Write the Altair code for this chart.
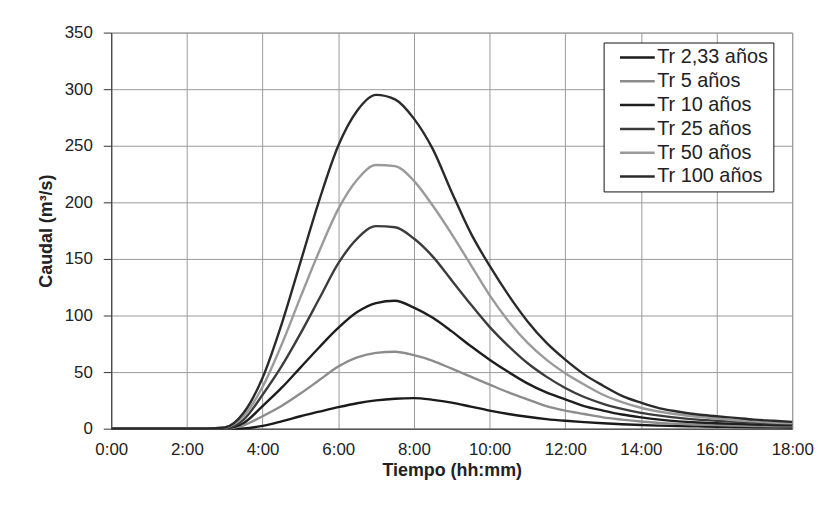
import altair as alt
import pandas as pd

# Time in hours (every 30 min)
hours = [i * 0.5 for i in range(37)]

series_names = ["Tr 2,33 años", "Tr 5 años", "Tr 10 años", "Tr 25 años", "Tr 50 años", "Tr 100 años"]
series_colors = ["#1a1a1a", "#8c8c8c", "#1e1e1e", "#3c3c3c", "#9a9a9a", "#2a2a2a"]

tr_2_33 = [0, 0, 0, 0, 0, 0, 0, 0.3, 2.5, 6.5, 11, 15, 19, 22.5, 25, 26.5, 27, 25.5, 23, 19.5,
           16, 13, 10.5, 8.5, 7, 5.8, 4.8, 3.9, 3.2, 2.7, 2.3, 2, 1.7, 1.5, 1.3, 1.2, 1]
tr_5 = [0, 0, 0, 0, 0, 0, 0.2, 3, 11, 20, 31, 43, 55, 63, 67, 68, 65, 60, 53, 46,
        39, 32, 26, 20, 16, 13, 10, 8, 6.3, 5, 4.2, 3.6, 3.1, 2.7, 2.4, 2.2, 2]
tr_10 = [0, 0, 0, 0, 0, 0, 0.3, 5, 20, 36, 54, 72, 89, 103, 111, 113, 107, 98, 86, 73,
         61, 50, 40, 32, 26, 20, 16, 12.5, 10, 8, 6.5, 5.5, 4.8, 4.2, 3.7, 3.3, 3]
tr_25 = [0, 0, 0, 0, 0, 0, 0.5, 8, 30, 55, 84, 115, 146, 168, 179, 178, 168, 152, 131, 110,
         90, 73, 58, 46, 36, 28, 22, 17.5, 14, 11.5, 9.5, 8, 7, 6, 5.3, 4.6, 4]
tr_50 = [0, 0, 0, 0, 0, 0, 1, 11, 37, 74, 116, 157, 194, 220, 233, 232, 219, 197, 172, 145,
         118, 95, 76, 61, 49, 39, 30, 23.5, 18.5, 15, 12.5, 10.5, 9, 7.5, 6.5, 5.5, 5]
tr_100 = [0, 0, 0, 0, 0, 0, 1, 14, 45, 92, 147, 202, 250, 281, 295, 291, 274, 247, 209, 173,
          144, 118, 95, 76, 61, 48, 38, 29, 23, 18, 15, 12.5, 11, 9.5, 8, 7, 6]

x_tick_values = [0, 2, 4, 6, 8, 10, 12, 14, 16, 18]
x_tick_labels = ["0:00", "2:00", "4:00", "6:00", "8:00", "10:00", "12:00", "14:00", "16:00", "18:00"]
y_tick_values = [0, 50, 100, 150, 200, 250, 300, 350]

all_series = [tr_2_33, tr_5, tr_10, tr_25, tr_50, tr_100]
rows = []
for idx, (name, vals) in enumerate(zip(series_names, all_series)):
    for t, v in zip(hours, vals):
        rows.append({"t": t, "q": v, "serie": name, "idx": idx})
df = pd.DataFrame(rows)

label_expr = "[" + ",".join("'%s'" % l for l in x_tick_labels) + "][round(datum.value/2)]"

FONT = "Liberation Sans"

chart = alt.Chart(df).mark_line(strokeWidth=2.4, interpolate="monotone").encode(
    x=alt.X("t:Q",
            scale=alt.Scale(domain=[0, 18], nice=False, zero=False),
            axis=alt.Axis(values=x_tick_values, labelExpr=label_expr,
                          title="Tiempo (hh:mm)", grid=True, ticks=False,
                          labelFlush=False, labelPadding=13, titlePadding=4)),
    y=alt.Y("q:Q",
            scale=alt.Scale(domain=[0, 350], nice=False),
            axis=alt.Axis(values=y_tick_values, title="Caudal (m³/s)", grid=True,
                          labelFlush=False, ticks=True, tickSize=8,
                          labelPadding=11, titlePadding=9)),
    color=alt.Color("serie:N",
                    scale=alt.Scale(domain=series_names, range=series_colors),
                    sort=series_names,
                    legend=alt.Legend(title=None, orient="none", legendX=496, legendY=10,
                                      symbolType="M-5,0H5", symbolSize=49,
                                      symbolOffset=19, labelOffset=10,
                                      symbolStrokeWidth=2.5, labelFontSize=20,
                                      labelFont=FONT, labelColor="#222",
                                      strokeColor="#111", fillColor="white",
                                      padding=5, rowPadding=4)),
    order=alt.Order("idx:Q"),
).properties(
    width=686, height=399,
    padding={"left": 29, "top": 14, "right": 10, "bottom": 10},
    background="white",
).configure_axis(
    labelFont=FONT, titleFont=FONT, labelFontSize=17, titleFontSize=18,
    labelColor="#222", titleColor="#222", titleFontWeight="bold",
    gridColor="#9a9a9a", gridWidth=1, domainColor="#333", tickColor="#333",
).configure_view(
    stroke="#9a9a9a", strokeWidth=1,
)

chart.save("out.html", embed_options={"renderer": "svg", "actions": False})
